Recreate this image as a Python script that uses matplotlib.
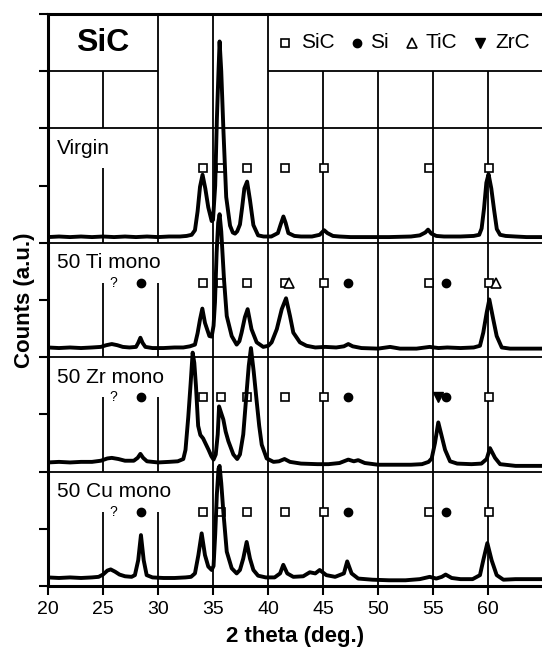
import numpy as np
import matplotlib
matplotlib.use('Agg')
import matplotlib.pyplot as plt

plt.rcParams['font.family'] = ['Liberation Sans', 'DejaVu Sans']

##### XRD curves: (2 theta, height above panel bottom) #####
virgin_xy = [(20.0,0.10),(21.0,0.11),(22.0,0.10),(23.0,0.11),(24.0,0.10),(25.0,0.11),(26.0,0.10),(27.0,0.11),
             (28.0,0.10),(29.0,0.11),(30.0,0.10),(31.0,0.11),(32.0,0.11),(32.6,0.12),(33.06,0.14),(33.36,0.22),
             (33.6,0.55),(33.82,0.98),(34.05,1.19),(34.3,0.95),(34.57,0.62),(34.88,0.38),(35.0,0.40),(35.2,1.0),
             (35.35,2.15),(35.5,3.0),(35.6,3.52),(35.75,3.0),(35.95,1.95),(36.2,0.8),(36.55,0.3),(36.8,0.18),
             (37.0,0.16),(37.2,0.2),(37.45,0.32),(37.65,0.62),(37.85,0.95),(38.1,1.07),(38.36,0.75),(38.67,0.31),
             (39.1,0.13),(39.6,0.11),(40.3,0.11),(40.9,0.17),(41.15,0.32),(41.4,0.46),(41.6,0.35),(41.85,0.17),
             (42.4,0.12),(43.0,0.11),(44.0,0.11),(44.7,0.14),(45.1,0.22),(45.4,0.17),(45.9,0.12),(46.5,0.11),
             (47.5,0.10),(49.0,0.10),(51.0,0.10),(53.0,0.11),(53.8,0.13),(54.3,0.18),(54.55,0.23),(54.85,0.16),
             (55.3,0.12),(56.0,0.11),(57.5,0.11),(58.7,0.12),(59.2,0.14),(59.42,0.25),(59.64,0.6),(59.85,1.05),
             (60.05,1.2),(60.3,0.95),(60.55,0.58),(60.8,0.24),(61.1,0.14),(61.6,0.12),(62.5,0.11),(63.5,0.10),
             (65.0,0.10)]

ti_xy = [(20.0,0.17),(21.0,0.16),(22.0,0.17),(23.0,0.16),(24.0,0.17),(24.8,0.18),(25.3,0.21),(25.8,0.23),
         (26.3,0.21),(26.8,0.18),(27.4,0.17),(28.0,0.18),(28.2,0.25),(28.4,0.34),(28.6,0.25),(28.85,0.18),
         (29.5,0.16),(30.5,0.16),(31.5,0.17),(32.3,0.17),(32.9,0.19),(33.36,0.22),(33.6,0.42),(33.82,0.66),
         (34.03,0.85),(34.27,0.6),(34.67,0.37),(34.88,0.36),(35.05,0.55),(35.18,0.96),(35.33,1.83),(35.47,2.35),
         (35.6,2.5),(35.75,2.2),(36.0,1.36),(36.25,0.72),(36.7,0.37),(37.15,0.22),(37.4,0.28),(37.6,0.43),
         (37.9,0.7),(38.15,0.84),(38.5,0.49),(38.97,0.26),(39.57,0.18),(40.03,0.2),(40.33,0.26),(40.8,0.49),
         (41.25,0.84),(41.64,1.03),(42.0,0.72),(42.3,0.43),(42.9,0.26),(43.5,0.2),(44.3,0.17),(45.2,0.18),
         (46.2,0.17),(46.9,0.19),(47.3,0.23),(47.7,0.19),(48.5,0.16),(50.0,0.15),(51.1,0.18),(52.0,0.15),
         (53.5,0.15),(54.7,0.18),(55.5,0.16),(56.3,0.17),(57.5,0.16),(58.7,0.17),(59.27,0.2),(59.57,0.43),
         (59.88,0.78),(60.12,1.01),(60.48,0.66),(60.79,0.37),(61.25,0.17),(62.0,0.15),(63.5,0.15),(65.0,0.15)]

zr_xy = [(20.0,0.16),(21.0,0.17),(22.0,0.16),(23.0,0.17),(24.0,0.17),(24.8,0.19),(25.4,0.23),(25.8,0.24),
         (26.4,0.22),(27.0,0.19),(27.8,0.19),(28.15,0.24),(28.4,0.31),(28.65,0.24),(29.0,0.18),(30.0,0.16),
         (31.0,0.17),(31.8,0.18),(32.3,0.22),(32.5,0.38),(32.75,0.95),(32.97,1.55),(33.15,2.08),(33.3,1.9),
         (33.45,1.5),(33.65,0.8),(33.85,0.64),(34.1,0.58),(34.35,0.48),(34.6,0.38),(34.85,0.27),(35.05,0.21),
         (35.25,0.3),(35.43,0.65),(35.55,1.14),(35.7,1.05),(35.94,0.91),(36.15,0.7),(36.4,0.53),(36.85,0.3),
         (37.2,0.22),(37.45,0.3),(37.75,0.65),(38.06,1.4),(38.25,1.85),(38.45,2.16),(38.7,1.75),(38.97,1.23),
         (39.2,0.8),(39.43,0.47),(39.88,0.23),(40.5,0.17),(41.0,0.18),(41.5,0.22),(42.0,0.17),(43.0,0.14),
         (44.5,0.13),(45.5,0.13),(46.5,0.15),(47.3,0.21),(47.8,0.18),(48.2,0.2),(48.8,0.15),(50.0,0.12),
         (51.5,0.12),(53.0,0.12),(54.0,0.13),(54.6,0.17),(54.88,0.23),(55.18,0.5),(55.48,0.86),(55.79,0.62),
         (56.1,0.38),(56.55,0.18),(57.2,0.14),(58.5,0.13),(59.4,0.14),(59.88,0.22),(60.18,0.41),(60.64,0.24),
         (61.1,0.13),(62.5,0.10),(65.0,0.10)]

cu_xy = [(20.0,0.15),(21.0,0.14),(22.0,0.15),(23.0,0.14),(24.0,0.15),(24.6,0.16),(25.0,0.2),(25.4,0.27),
         (25.7,0.29),(26.1,0.25),(26.5,0.2),(27.0,0.17),(27.6,0.16),(27.9,0.19),(28.2,0.45),(28.45,0.89),
         (28.7,0.45),(28.97,0.19),(29.5,0.15),(30.5,0.14),(31.5,0.14),(32.5,0.15),(33.0,0.16),(33.36,0.22),
         (33.67,0.54),(33.97,0.92),(34.27,0.54),(34.57,0.34),(34.88,0.28),(35.05,0.35),(35.2,0.9),(35.35,1.6),
         (35.5,2.05),(35.6,2.1),(35.75,1.8),(35.94,1.3),(36.25,0.6),(36.7,0.31),(37.15,0.22),(37.45,0.28),
         (37.75,0.48),(38.06,0.77),(38.36,0.48),(38.67,0.28),(39.1,0.18),(39.8,0.15),(40.6,0.15),(41.1,0.22),
         (41.39,0.37),(41.75,0.22),(42.3,0.16),(43.2,0.17),(43.8,0.24),(44.3,0.22),(44.7,0.28),(45.3,0.19),
         (46.1,0.16),(46.9,0.22),(47.2,0.43),(47.6,0.22),(48.2,0.13),(49.5,0.11),(51.0,0.10),(52.5,0.10),
         (53.8,0.12),(54.7,0.16),(55.3,0.13),(55.8,0.16),(56.15,0.2),(56.7,0.14),(57.5,0.12),(58.6,0.12),
         (59.27,0.19),(59.57,0.45),(59.94,0.75),(60.33,0.45),(60.79,0.19),(61.4,0.11),(62.5,0.12),(63.5,0.12),
         (65.0,0.12)]

##### phase markers (2 theta) #####
sic_all = [34.1, 35.7, 38.1, 41.5, 45.1, 54.6, 60.05]
sic_zr = [34.1, 35.7, 38.1, 41.5, 45.1, 60.05]
si_peaks = [28.45, 47.3, 56.2]
tic_peaks = [41.9, 60.7]
zrc_peaks = [55.5]
unknown_peak = 25.95

labels = ['Virgin', '50 Ti mono', '50 Zr mono', '50 Cu mono']
offsets = [6, 4, 2, 0]
curves = [virgin_xy, ti_xy, zr_xy, cu_xy]
sic_marks = [sic_all, sic_all, sic_zr, sic_all]
si_marks = [[], si_peaks, si_peaks, si_peaks]
tic_marks = [[], tic_peaks, [], []]
zrc_marks = [[], [], zrc_peaks, []]
show_q = [False, True, True, True]

xticks = [20, 25, 30, 35, 40, 45, 50, 55, 60]

W, H = 542, 649
fig = plt.figure(figsize=(W/100, H/100), dpi=100)
ax = fig.add_axes([48/W, 63/H, 495/W, 572/H])
ax.set_xlim(20, 65)
ax.set_ylim(0, 10)

glw = 1.3
k = 'black'
mrow = 1.3  # marker row above panel bottom

# frame lines
for b in [2, 4, 6, 8]:
    ax.axhline(b, color=k, lw=glw, zorder=1)
ax.hlines(9, 20, 30, color=k, lw=glw, zorder=1)
ax.hlines(9, 40, 65, color=k, lw=glw, zorder=1)
ax.vlines([35, 40], 0, 10, color=k, lw=glw, zorder=1)
ax.vlines([45, 50, 55, 60], 0, 9, color=k, lw=glw, zorder=1)
ax.vlines(30, 6, 10, color=k, lw=glw, zorder=1)
ax.vlines(25, 8, 9, color=k, lw=glw, zorder=1)
ax.vlines(25, 6, 6 + mrow, color=k, lw=glw, zorder=1)
for b in [4, 2, 0]:
    ax.vlines([25, 30], b, b + mrow, color=k, lw=glw, zorder=1)

ms = dict(color=k, ls='none', zorder=3)
for i in range(4):
    b = offsets[i]
    xy = np.array(curves[i])
    ax.plot(xy[:, 0], xy[:, 1] + b, color=k, lw=2.8, zorder=4)
    ax.text(20.85, b + 1.65, labels[i], fontsize=15, va='center', ha='left', zorder=5)
    y = b + mrow
    ax.plot(sic_marks[i], [y]*len(sic_marks[i]), marker='s', ms=6, mfc='white', mec=k, mew=1.2, **ms)
    ax.plot(si_marks[i], [y]*len(si_marks[i]), marker='o', ms=6, mfc=k, mec=k, **ms)
    ax.plot(tic_marks[i], [y]*len(tic_marks[i]), marker='^', ms=6.5, mfc='white', mec=k, mew=1.2, **ms)
    ax.plot(zrc_marks[i], [y]*len(zrc_marks[i]), marker='v', ms=6.5, mfc=k, mec=k, **ms)
    if show_q[i]:
        ax.text(unknown_peak, y, '?', fontsize=10, ha='center', va='center', zorder=5)

# header cells
ax.text(25, 9.5, 'SiC', fontsize=23, fontweight='bold', ha='center', va='center')
ax.plot([41.55], [9.5], marker='s', ms=6, mfc='white', mec=k, mew=1.2, **ms)
ax.text(43.0, 9.5, 'SiC', fontsize=15, va='center', ha='left')
ax.plot([48.1], [9.5], marker='o', ms=6, mfc=k, mec=k, **ms)
ax.text(49.25, 9.5, 'Si', fontsize=15, va='center', ha='left')
ax.plot([53.05], [9.5], marker='^', ms=6.5, mfc='white', mec=k, mew=1.2, **ms)
ax.text(54.35, 9.5, 'TiC', fontsize=15, va='center', ha='left')
ax.plot([59.3], [9.5], marker='v', ms=6.5, mfc=k, mec=k, **ms)
ax.text(60.65, 9.5, 'ZrC', fontsize=15, va='center', ha='left')

for s in ['left', 'top', 'bottom']:
    ax.spines[s].set_linewidth(2.2)
ax.spines['right'].set_visible(False)
ax.set_xticks(xticks)
ax.set_yticks(range(11))
ax.set_yticklabels([])
ax.tick_params(axis='x', direction='out', length=6.5, width=1.5, labelsize=14, pad=4)
ax.tick_params(axis='y', direction='out', length=6.5, width=1.5)

ax.set_xlabel('2 theta (deg.)', fontsize=16, fontweight='bold', va='center')
ax.xaxis.set_label_coords(0.5, -0.089)
ax.set_ylabel('Counts (a.u.)', fontsize=16, fontweight='bold', va='center')
ax.yaxis.set_label_coords(-0.047, 0.5)

fig.savefig('out.png', dpi=100)
